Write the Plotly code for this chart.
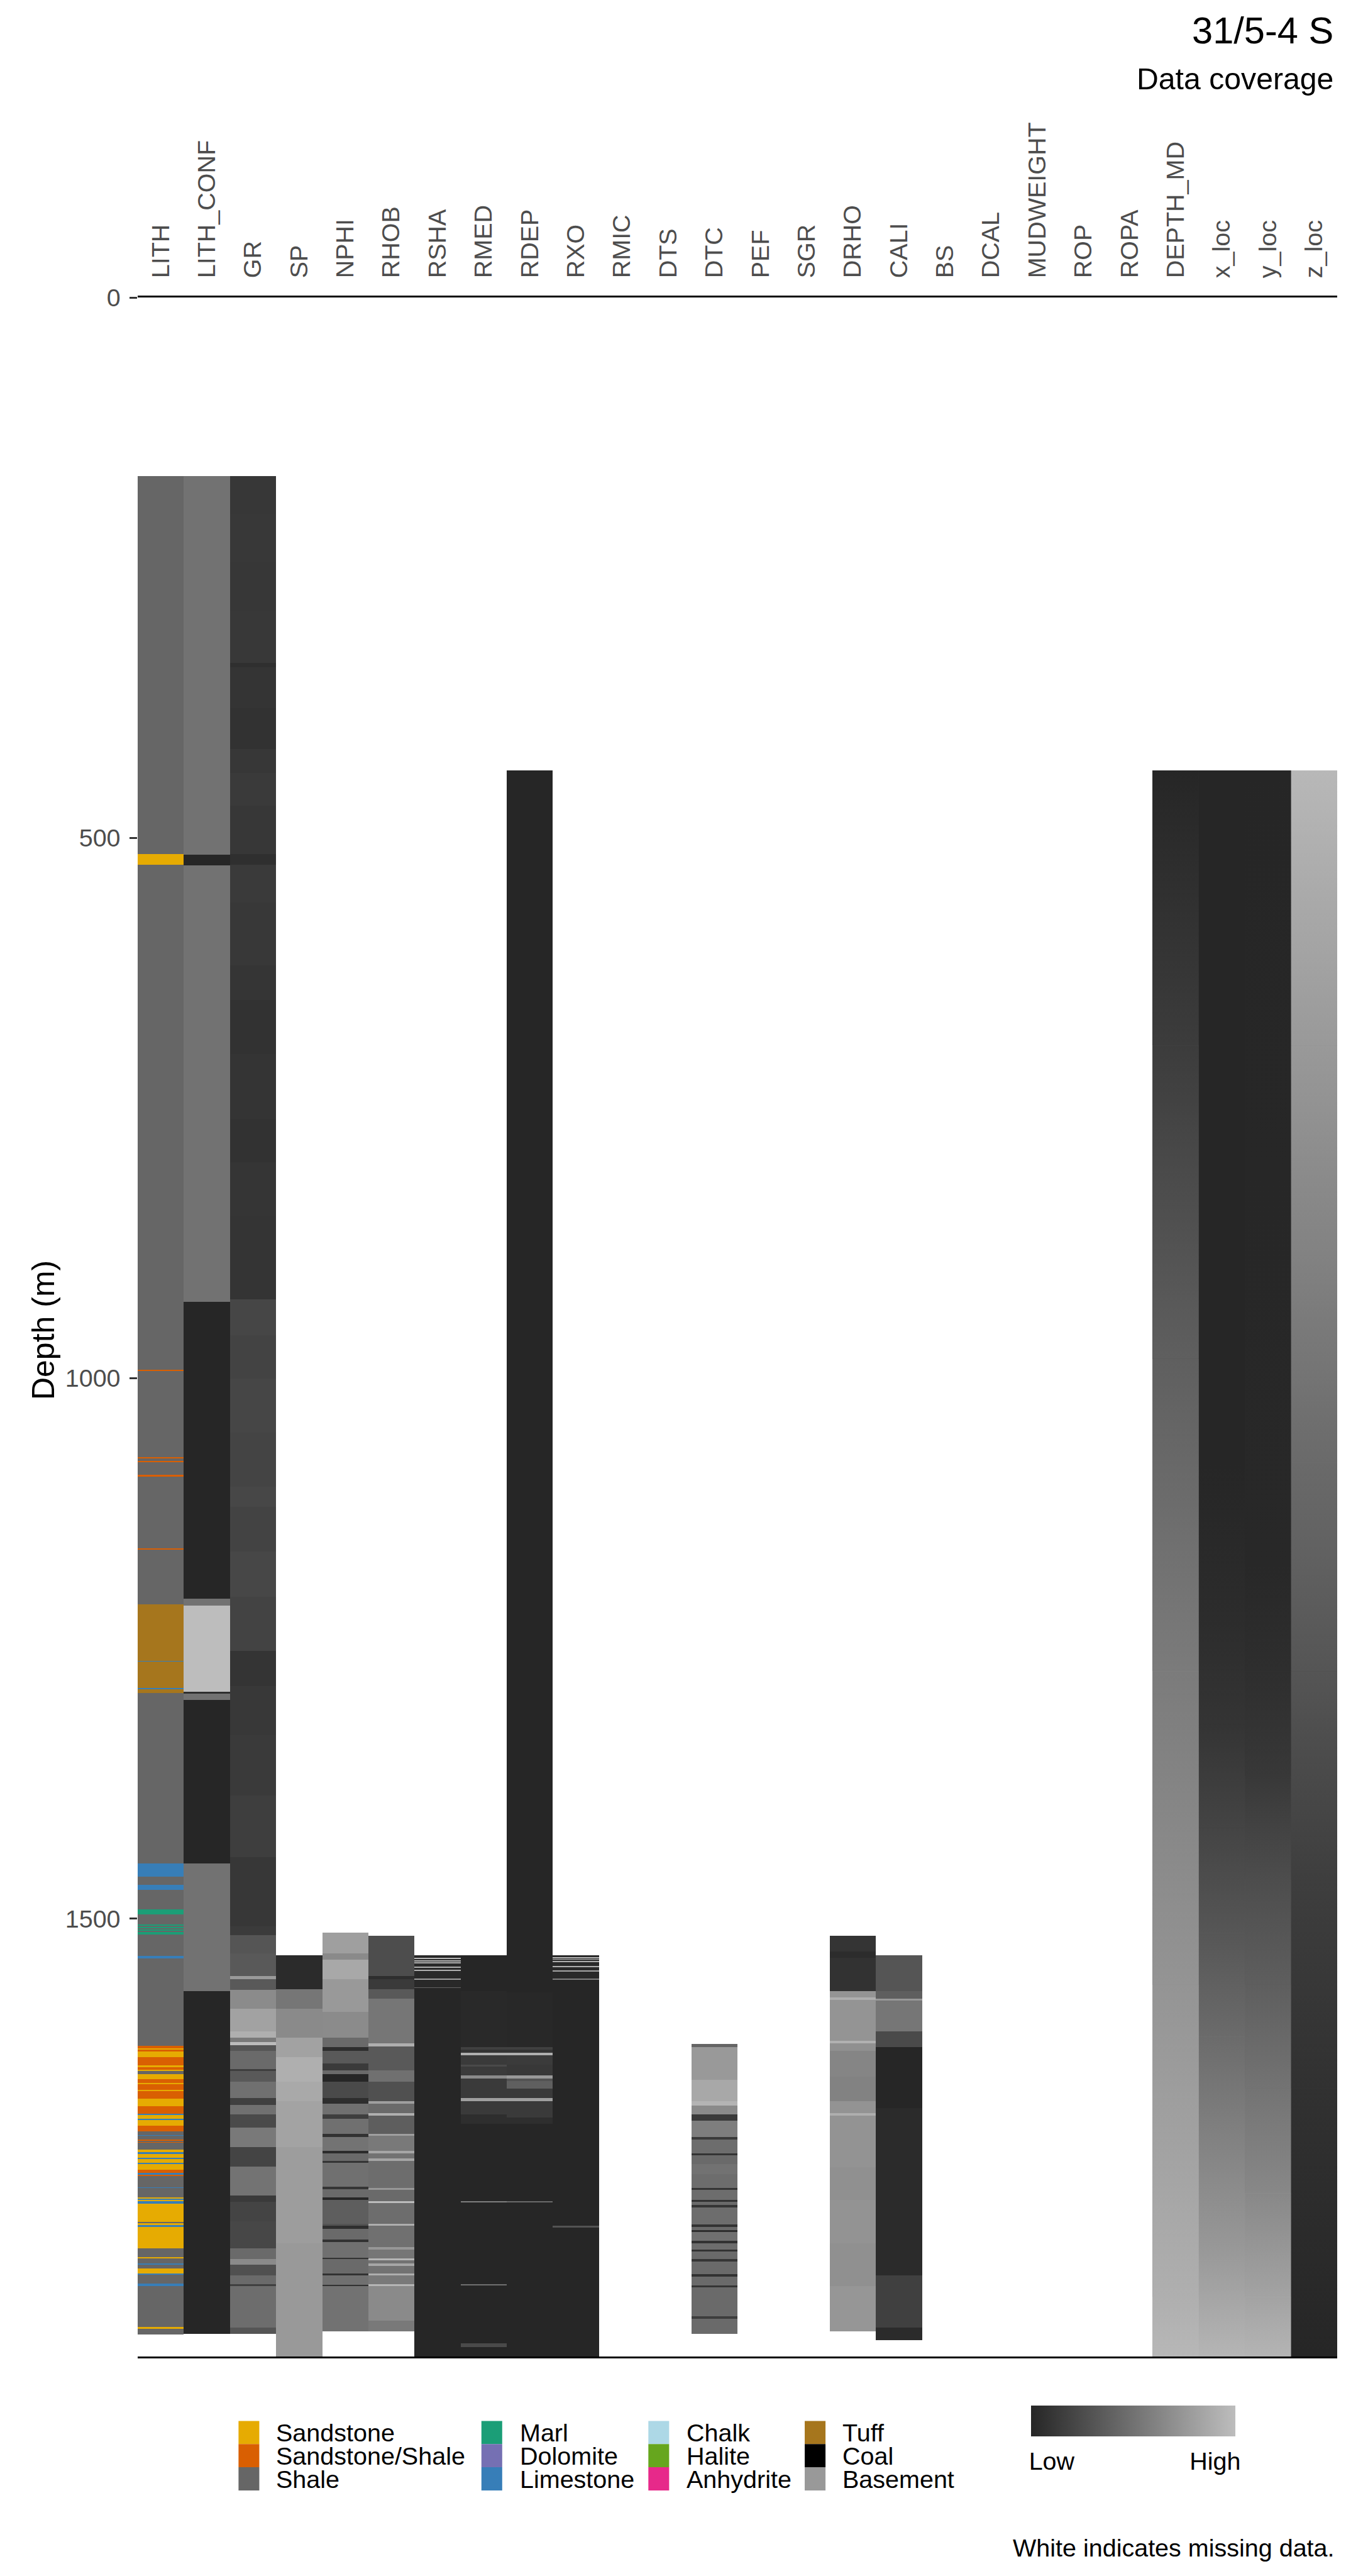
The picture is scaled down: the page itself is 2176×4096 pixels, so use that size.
import plotly.graph_objects as go

# ---------------------------------------------------------------- data
COLUMNS = ["LITH", "LITH_CONF", "GR", "SP", "NPHI", "RHOB", "RSHA", "RMED", "RDEP",
           "RXO", "RMIC", "DTS", "DTC", "PEF", "SGR", "DRHO", "CALI", "BS", "DCAL",
           "MUDWEIGHT", "ROP", "ROPA", "DEPTH_MD", "x_loc", "y_loc", "z_loc"]
DEPTH_TICKS = [0, 500, 1000, 1500]
DEPTH_MAX = 1905

LITH_CLASSES = ["Sandstone", "Sandstone/Shale", "Shale", "Marl", "Dolomite", "Limestone",
                "Chalk", "Halite", "Anhydrite", "Tuff", "Coal", "Basement"]
LITH_COLOURS = ["#E6AB02", "#D95F02", "#666666", "#1B9E77", "#7570B3", "#377EB8",
                "#ADD8E6", "#66A61E", "#E7298A", "#A6761D", "#000000", "#999999"]

# lithology intervals (depth breakpoints, class of each interval)
LITH_DEPTH = [165, 515, 525, 992.5, 993.5, 1073.5, 1074.3, 1076.7, 1077.5, 1089.5, 1091,
              1157.5, 1158.3, 1209, 1261.5, 1262.3, 1286.5, 1287.5, 1291, 1448.6, 1461,
              1468.8, 1473.3, 1491.4, 1495.7, 1505.3, 1506.5, 1507.7, 1508.9, 1510.1, 1511.3,
              1512.5, 1514.4, 1534.6, 1536.4, 1617.5, 1619.6, 1621.1, 1622.9, 1628.1, 1635.6,
              1637.1, 1640.1, 1641.0, 1644.0, 1648.6, 1652.2, 1653.1, 1658.8, 1659.7, 1666.7,
              1673.6, 1680.2, 1681.7, 1684.8, 1686.0, 1691.7, 1696.8, 1700.2, 1700.8, 1704.7,
              1705.3, 1706.8, 1707.4, 1713.4, 1716.1, 1717.6, 1720.9, 1722.2, 1725.5, 1726.7,
              1732.1, 1735.1, 1736.6, 1738.1, 1748.7, 1749.3, 1758.3, 1759.2, 1760.1, 1761.4,
              1763.8, 1780.4, 1781.9, 1783.4, 1784.9, 1805.1, 1813.6, 1814.5, 1819.0, 1819.9,
              1823.5, 1828.0, 1829.2, 1837.7, 1839.8, 1877.5, 1879.6, 1884.4]
LITH_CLASS = ["Shale", "Sandstone", "Shale", "Sandstone/Shale", "Shale", "Sandstone/Shale",
              "Shale", "Sandstone/Shale", "Shale", "Sandstone/Shale", "Shale", "Sandstone/Shale",
              "Shale", "Tuff", "Limestone", "Tuff", "Limestone", "Tuff", "Shale", "Limestone",
              "Shale", "Limestone", "Shale", "Marl", "Shale", "Marl", "Shale", "Marl", "Shale",
              "Marl", "Shale", "Marl", "Shale", "Limestone", "Shale", "Sandstone/Shale",
              "Sandstone", "Sandstone/Shale", "Sandstone", "Sandstone/Shale", "Sandstone",
              "Sandstone/Shale", "Sandstone", "Shale", "Sandstone", "Sandstone/Shale",
              "Sandstone", "Sandstone/Shale", "Sandstone", "Sandstone/Shale", "Sandstone",
              "Sandstone/Shale", "Limestone", "Sandstone", "Limestone", "Sandstone",
              "Sandstone/Shale", "Shale", "Limestone", "Shale", "Sandstone/Shale", "Shale",
              "Sandstone/Shale", "Shale", "Sandstone", "Limestone", "Sandstone", "Limestone",
              "Sandstone", "Limestone", "Sandstone", "Sandstone/Shale", "Limestone",
              "Sandstone/Shale", "Shale", "Limestone", "Shale", "Sandstone", "Limestone",
              "Sandstone", "Limestone", "Sandstone", "Shale", "Sandstone", "Limestone",
              "Sandstone", "Shale", "Sandstone", "Shale", "Limestone", "Shale", "Sandstone",
              "Limestone", "Shale", "Limestone", "Shale", "Sandstone", "Shale"]

# normalised log values (0 = low, 1 = high) per depth interval
LITH_CONF_DEPTH = [165, 515.4, 525.3, 929, 1204, 1210, 1290, 1291.5, 1297.5, 1449, 1567, 1884]
LITH_CONF_VALUE = [0.5, 0.0, 0.5, 0.0, 0.5, 1.0, 0.05, 0.5, 0.0, 0.5, 0.0]

GR_DEPTH = [165, 200, 245, 290, 338, 342, 380, 418, 440, 470, 515, 525, 560, 618, 650, 700,
            760, 800, 850, 927, 960, 1000, 1050, 1100, 1119, 1160, 1202, 1252, 1285, 1330,
            1386, 1443, 1507, 1515, 1532, 1553, 1556, 1566, 1583, 1604, 1610, 1614, 1617,
            1622, 1639, 1641, 1651, 1666, 1672, 1681, 1693, 1711, 1729, 1756, 1762, 1780,
            1805, 1815, 1820, 1830, 1838, 1840, 1878, 1884]
GR_VALUE = [0.11, 0.12, 0.11, 0.12, 0.06, 0.09, 0.08, 0.11, 0.13, 0.11, 0.06, 0.13, 0.12,
            0.10, 0.08, 0.09, 0.08, 0.10, 0.09, 0.21, 0.19, 0.21, 0.20, 0.22, 0.19, 0.22,
            0.19, 0.09, 0.12, 0.13, 0.16, 0.11, 0.14, 0.31, 0.34, 0.76, 0.34, 0.67, 0.82,
            0.91, 0.55, 0.99, 0.31, 0.45, 0.16, 0.34, 0.49, 0.17, 0.49, 0.24, 0.55, 0.20,
            0.51, 0.13, 0.20, 0.22, 0.45, 0.66, 0.28, 0.45, 0.17, 0.47, 0.31]

SP_DEPTH = [1534, 1565, 1583, 1610, 1628, 1651, 1669, 1711, 1800, 1905]
SP_VALUE = [0.03, 0.53, 0.66, 0.82, 0.91, 0.87, 0.83, 0.79, 0.76]

NPHI_DEPTH = [1513, 1532, 1538, 1556, 1586, 1610, 1619, 1622, 1634, 1640, 1644, 1651, 1666,
              1671, 1681, 1685, 1699, 1702, 1715, 1717, 1724, 1726, 1748, 1750, 1758, 1760,
              1782, 1784, 1787, 1797, 1799, 1814, 1815, 1828, 1830, 1839, 1840, 1882]
NPHI_VALUE = [0.80, 0.66, 0.86, 0.76, 0.67, 0.45, 0.05, 0.34, 0.13, 0.45, 0.0, 0.24, 0.05,
              0.49, 0.16, 0.49, 0.08, 0.51, 0.03, 0.45, 0.09, 0.49, 0.10, 0.45, 0.0, 0.37,
              0.30, 0.05, 0.45, 0.08, 0.49, 0.08, 0.45, 0.08, 0.49, 0.08, 0.50]

RHOB_DEPTH = [1516, 1553, 1556, 1565, 1574, 1615, 1618, 1640, 1651, 1669, 1671, 1680, 1682,
              1699, 1701, 1715, 1717, 1722, 1724, 1749, 1751, 1761, 1763, 1782, 1784, 1804,
              1806, 1814, 1816, 1819, 1821, 1828, 1830, 1838, 1840, 1872, 1882]
RHOB_VALUE = [0.26, 0.05, 0.13, 0.34, 0.53, 0.91, 0.34, 0.49, 0.28, 0.80, 0.45, 0.91, 0.37,
              0.80, 0.55, 0.85, 0.50, 0.85, 0.47, 0.75, 0.45, 0.99, 0.47, 0.90, 0.49, 0.75,
              0.53, 0.95, 0.50, 0.85, 0.50, 0.90, 0.55, 0.95, 0.66, 0.55]

RSHA_DEPTH = [1534, 1536.5, 1537.3, 1538.5, 1539.3, 1540.5, 1541.3, 1544.5, 1545.3, 1547.5,
              1548.3, 1555.5, 1556.3, 1563.5, 1564.3, 1905]
RSHA_VALUE = [0.02, 0.95, 0.02, 0.95, 0.02, 0.9, 0.02, 0.9, 0.02, 0.9, 0.02, 0.8, 0.02,
              0.4, 0.0]

RMED_DEPTH = [1534, 1567, 1619, 1621, 1624, 1626, 1635, 1637, 1640, 1645, 1648, 1666, 1669,
              1681, 1690, 1761.5, 1762.5, 1838.5, 1839.5, 1893, 1896, 1905]
RMED_VALUE = [0.0, 0.02, 0.17, 0.09, 0.91, 0.13, 0.24, 0.13, 0.14, 0.66, 0.13, 0.80, 0.13,
              0.05, 0.0, 0.59, 0.0, 0.49, 0.0, 0.24, 0.0]

RDEP_DEPTH = [437.6, 1568, 1619, 1621, 1624, 1626, 1635, 1645, 1648, 1650, 1657, 1666, 1669,
              1684, 1690, 1761.5, 1762.5, 1905]
RDEP_VALUE = [0.0, 0.01, 0.17, 0.09, 0.91, 0.14, 0.12, 0.76, 0.30, 0.38, 0.13, 0.80, 0.13,
              0.05, 0.0, 0.45, 0.0]

RXO_DEPTH = [1534, 1536, 1536.8, 1537.6, 1538.4, 1539.2, 1540, 1544, 1544.8, 1548, 1548.8,
             1555.5, 1556.3, 1784.5, 1785.5, 1905]
RXO_VALUE = [0.02, 0.95, 0.02, 0.95, 0.02, 0.9, 0.02, 0.9, 0.02, 0.85, 0.02, 0.6, 0.0,
             0.3, 0.0]

DTC_DEPTH = [1616, 1619, 1649, 1669, 1673, 1681, 1687, 1702, 1704, 1717, 1719, 1727, 1736,
             1749, 1751, 1760, 1762, 1765, 1767, 1783, 1785, 1788, 1790, 1798, 1800, 1806,
             1808, 1815, 1817, 1829, 1831, 1839, 1841, 1868, 1870, 1884]
DTC_VALUE = [0.42, 0.76, 0.86, 0.94, 0.66, 0.13, 0.58, 0.13, 0.47, 0.09, 0.45, 0.50, 0.47,
             0.10, 0.47, 0.08, 0.45, 0.10, 0.47, 0.08, 0.45, 0.05, 0.49, 0.08, 0.47, 0.08,
             0.45, 0.10, 0.45, 0.08, 0.45, 0.10, 0.45, 0.15, 0.45]

DRHO_DEPTH = [1516, 1530, 1536, 1567, 1573, 1575, 1613, 1615, 1622, 1646, 1669, 1680, 1682,
              1730, 1760, 1800, 1840, 1882]
DRHO_VALUE = [0.09, 0.04, 0.08, 0.73, 0.90, 0.73, 0.92, 0.70, 0.63, 0.61, 0.72, 0.90, 0.72,
              0.70, 0.72, 0.70, 0.74]

CALI_DEPTH = [1534, 1567, 1574, 1575.5, 1604, 1619, 1675, 1830, 1878, 1890]
CALI_VALUE = [0.31, 0.38, 0.76, 0.53, 0.24, 0.0, 0.03, 0.17, 0.03]

# smoothly varying logs: (depth, normalised value) read at control depths
DEPTH_MD_DEPTH = [437.6, 692, 982, 1271, 1561, 1850, 1905]
DEPTH_MD_VALUE = [0.0, 0.145, 0.375, 0.566, 0.73, 0.908, 0.96]
X_LOC_DEPTH = [437.6, 1078, 1223, 1320, 1416, 1513, 1609, 1706, 1802, 1905]
X_LOC_VALUE = [0.0, 0.0, 0.04, 0.09, 0.20, 0.32, 0.46, 0.61, 0.75, 0.95]
Y_LOC_DEPTH = [437.6, 1175, 1271, 1368, 1464, 1561, 1657, 1754, 1850, 1905]
Y_LOC_VALUE = [0.0, 0.01, 0.05, 0.12, 0.26, 0.37, 0.51, 0.65, 0.83, 0.94]
Z_LOC_DEPTH = [437.6, 692, 885, 1078, 1271, 1464, 1657, 1905]
Z_LOC_VALUE = [0.97, 0.76, 0.61, 0.45, 0.31, 0.16, 0.07, 0.0]

# ---------------------------------------------------------------- styling
FONT = "Liberation Sans, Arial, sans-serif"
LOW_RGB = (38, 38, 38)
HIGH_RGB = (189, 189, 189)
GRAY_SCALE = [[0, "rgb(38,38,38)"], [1, "rgb(189,189,189)"]]


def gray(v):
    c = [round(lo + (hi - lo) * v) for lo, hi in zip(LOW_RGB, HIGH_RGB)]
    return "rgb(%d,%d,%d)" % tuple(c)


W, H = 2176, 4096
S = H / 7559.0
L, R, T, B = 404 * S, 3925 * S, 872 * S, 6915 * S


def px(xf):
    return (xf * S - L) / (R - L)


def py(yf):
    return (B - yf * S) / (B - T)


fig = go.Figure()

# lithology column
colour_of = dict(zip(LITH_CLASSES, LITH_COLOURS))
assert len(LITH_DEPTH) == len(LITH_CLASS) + 1
fig.add_trace(go.Bar(
    x=[COLUMNS.index("LITH")] * len(LITH_CLASS),
    base=LITH_DEPTH[:-1],
    y=[b - a for a, b in zip(LITH_DEPTH[:-1], LITH_DEPTH[1:])],
    width=1, marker=dict(color=[colour_of[c] for c in LITH_CLASS], line=dict(width=0)),
    hoverinfo="skip", showlegend=False))

# gray-scale interval logs (smooth logs get a backing bar per control interval)
LOGS = [("LITH_CONF", LITH_CONF_DEPTH, LITH_CONF_VALUE), ("GR", GR_DEPTH, GR_VALUE),
        ("SP", SP_DEPTH, SP_VALUE), ("NPHI", NPHI_DEPTH, NPHI_VALUE),
        ("RHOB", RHOB_DEPTH, RHOB_VALUE), ("RSHA", RSHA_DEPTH, RSHA_VALUE),
        ("RMED", RMED_DEPTH, RMED_VALUE), ("RDEP", RDEP_DEPTH, RDEP_VALUE),
        ("RXO", RXO_DEPTH, RXO_VALUE), ("DTC", DTC_DEPTH, DTC_VALUE),
        ("DRHO", DRHO_DEPTH, DRHO_VALUE), ("CALI", CALI_DEPTH, CALI_VALUE)]
SMOOTH = [("DEPTH_MD", DEPTH_MD_DEPTH, DEPTH_MD_VALUE), ("x_loc", X_LOC_DEPTH, X_LOC_VALUE),
          ("y_loc", Y_LOC_DEPTH, Y_LOC_VALUE), ("z_loc", Z_LOC_DEPTH, Z_LOC_VALUE)]

xs, bases, heights, vals = [], [], [], []
for name, dep, val in LOGS:
    assert len(dep) == len(val) + 1, name
    for a, b, v in zip(dep[:-1], dep[1:], val):
        xs.append(COLUMNS.index(name))
        bases.append(a)
        heights.append(b - a)
        vals.append(v)
for name, dep, val in SMOOTH:
    assert len(dep) == len(val), name
    for k in range(len(dep) - 1):
        xs.append(COLUMNS.index(name))
        bases.append(dep[k])
        heights.append(dep[k + 1] - dep[k])
        vals.append((val[k] + val[k + 1]) / 2)

fig.add_trace(go.Bar(
    x=xs, base=bases, y=heights, width=1,
    marker=dict(color=vals, colorscale=GRAY_SCALE, cmin=0, cmax=1, line=dict(width=0),
                showscale=True,
                colorbar=dict(orientation="h", x=px(3027), xanchor="left", y=py(7059),
                              yanchor="top", len=(3626 - 3027) * S, lenmode="pixels",
                              thickness=(7149 - 7059) * S, outlinewidth=0, xpad=0, ypad=0,
                              tickvals=[0.1, 0.9], ticktext=["Low", "High"],
                              ticks="outside", ticklen=6, tickcolor="rgba(0,0,0,0)",
                              tickfont=dict(family=FONT, size=39.5, color="black"))),
    hoverinfo="skip", showlegend=False))

# smooth logs: linear gradient between successive control depths
for name, dep, val in SMOOTH:
    i = COLUMNS.index(name)
    for k in range(len(dep) - 1):
        d0, d1 = dep[k], dep[k + 1]
        fig.add_trace(go.Scatter(
            x=[i - 0.5, i + 0.5, i + 0.5, i - 0.5, i - 0.5], y=[d0, d0, d1, d1, d0],
            mode="none", fill="toself",
            fillgradient=dict(type="vertical", start=d0, stop=d1,
                              colorscale=[[0, gray(val[k])], [1, gray(val[k + 1])]]),
            hoverinfo="skip", showlegend=False))

fig.update_layout(
    width=W, height=H, barmode="overlay", bargap=0,
    margin=dict(l=L, r=W - R, t=T, b=H - B, pad=0),
    paper_bgcolor="white", plot_bgcolor="white",
    font=dict(family=FONT, color="black"),
    xaxis=dict(range=[-0.5, len(COLUMNS) - 0.5], tickvals=list(range(len(COLUMNS))),
               ticktext=COLUMNS, side="top", tickangle=-90, ticks="",
               ticklabelstandoff=20,
               tickfont=dict(family=FONT, size=39.5, color="#4D4D4D"),
               showgrid=False, zeroline=False, showline=True, linecolor="black",
               linewidth=2.6, mirror=True, fixedrange=True),
    yaxis=dict(range=[DEPTH_MAX, 0], tickvals=DEPTH_TICKS, ticks="outside", ticklen=12.5,
               tickwidth=2.7, tickcolor="#333333", ticklabelstandoff=6,
               tickfont=dict(family=FONT, size=39.5, color="#4D4D4D"),
               showgrid=False, zeroline=False, showline=False, fixedrange=True),
)

ann = []
ann.append(dict(text="31/5-4 S", xref="paper", yref="paper", x=px(3918), y=py(127 - 0.347 * 110),
                xanchor="right", yanchor="middle", showarrow=False,
                font=dict(family=FONT, size=59.6, color="black")))
ann.append(dict(text="Data coverage", xref="paper", yref="paper", x=px(3918),
                y=py(261 - 0.347 * 89), xanchor="right", yanchor="middle", showarrow=False,
                font=dict(family=FONT, size=48.2, color="black")))
ann.append(dict(text="Depth (m)", xref="paper", yref="paper", x=px(127), y=py(3903),
                xanchor="center", yanchor="middle", textangle=-90, showarrow=False,
                font=dict(family=FONT, size=50, color="black")))
ann.append(dict(text="White indicates missing data.", xref="paper", yref="paper",
                x=px(3922), y=py(7500 - 0.347 * 70), xanchor="right", yanchor="middle",
                showarrow=False, font=dict(family=FONT, size=39.5, color="black")))

# legend for lithology colours (4 columns x 3 rows)
KEY_X = [700, 1413, 1903, 2362]
LABEL_X = [807, 1522, 2012, 2469]
ROW_Y = [7104, 7172, 7240]
shapes = []
for k, (cls, col) in enumerate(zip(LITH_CLASSES, LITH_COLOURS)):
    c, r = divmod(k, 3)
    shapes.append(dict(type="rect", xref="paper", yref="paper", x0=px(KEY_X[c]),
                       x1=px(KEY_X[c] + 61), y0=py(ROW_Y[r] + 68), y1=py(ROW_Y[r]),
                       fillcolor=col, line=dict(width=0), layer="above"))
    ann.append(dict(text=cls, xref="paper", yref="paper", x=px(LABEL_X[c]),
                    y=py(ROW_Y[r] + 34), xanchor="left", yanchor="middle", showarrow=False,
                    font=dict(family=FONT, size=39.5, color="black")))

fig.update_layout(annotations=ann, shapes=shapes)
fig.write_html("out.html")
